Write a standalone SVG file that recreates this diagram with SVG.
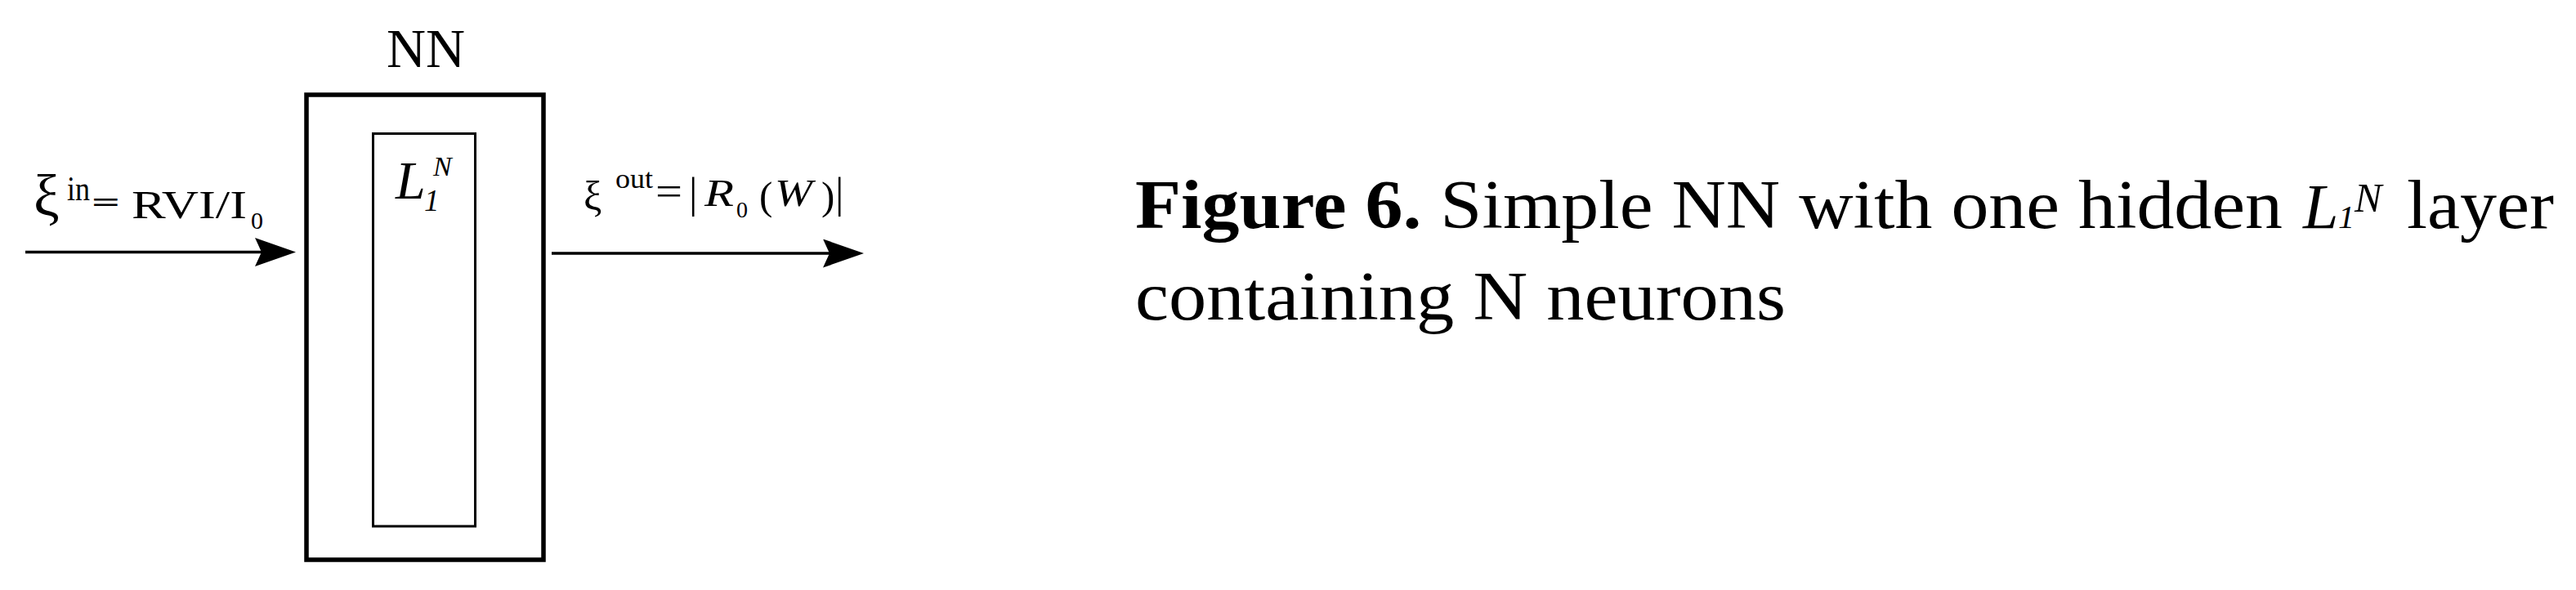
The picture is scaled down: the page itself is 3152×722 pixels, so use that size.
<svg xmlns="http://www.w3.org/2000/svg" width="3152" height="722" viewBox="0 0 3152 722">
<style>
text{font-family:"Liberation Serif","Times New Roman",serif;fill:#000}
.it{font-style:italic}
.b{font-weight:bold}
.box{fill:none;stroke:#000;stroke-linejoin:miter}
.conn{stroke:#000;stroke-width:3.5;fill:none}
</style>
<defs>
<marker id="ah" markerUnits="userSpaceOnUse" markerWidth="52" markerHeight="37" refX="33" refY="17.5" orient="auto">
<path d="M0,0 L50,17.5 L0,35 L8,17.5 Z" fill="#000"/>
</marker>
</defs>
<rect width="3152" height="722" fill="#fff"/>

<g id="nn">
<text x="473" y="82" font-size="68" textLength="96" lengthAdjust="spacingAndGlyphs">NN</text>
<rect class="box" x="375" y="116" width="290" height="569" stroke-width="5.5"/>
</g>

<g id="layer">
<rect class="box" x="456.5" y="163.5" width="125" height="480.5" stroke-width="3"/>
<text class="it" x="484" y="243" font-size="66">L</text>
<text class="it" x="519" y="258" font-size="37">1</text>
<text class="it" x="530" y="215" font-size="34">N</text>
</g>

<g id="input-label">
<text x="41" y="264" font-size="71">ξ</text>
<text x="82" y="245" font-size="42" textLength="28" lengthAdjust="spacingAndGlyphs">in</text>
<text class="b" x="112" y="259" font-size="34" textLength="35" lengthAdjust="spacingAndGlyphs">=</text>
<text x="161" y="267" font-size="48" textLength="141" lengthAdjust="spacingAndGlyphs">RVI/I</text>
<text x="307" y="280" font-size="30">0</text>
</g>

<g id="output-label">
<text x="714" y="257" font-size="50">ξ</text>
<text x="753" y="230" font-size="34" textLength="46" lengthAdjust="spacingAndGlyphs">out</text>
<text x="802" y="250.5" font-size="50" textLength="33" lengthAdjust="spacingAndGlyphs">=</text>
<text x="843" y="254" font-size="52">|</text>
<text class="it" x="862" y="252" font-size="46" textLength="36" lengthAdjust="spacingAndGlyphs">R</text>
<text x="901" y="266" font-size="28">0</text>
<text x="929" y="256" font-size="49">(</text>
<text class="it" x="948" y="252" font-size="46" textLength="46" lengthAdjust="spacingAndGlyphs">W</text>
<text x="1005" y="256" font-size="49">)</text>
<text x="1022" y="254" font-size="52">|</text>
</g>

<g id="connectors">
<line class="conn" x1="31" y1="308.5" x2="345" y2="308.5" marker-end="url(#ah)"/>
<line class="conn" x1="675" y1="310" x2="1040" y2="310" marker-end="url(#ah)"/>
</g>

<g id="caption">
<text x="1389" y="279" font-size="84" textLength="1404" lengthAdjust="spacingAndGlyphs"><tspan class="b">Figure 6.</tspan> Simple NN with one hidden</text>
<text class="it" x="2818" y="279" font-size="78">L</text>
<text class="it" x="2861" y="279" font-size="40">1</text>
<text class="it" x="2881" y="259" font-size="50">N</text>
<text x="2945" y="279" font-size="84" textLength="180" lengthAdjust="spacingAndGlyphs">layer</text>
<text x="1389" y="391" font-size="84" textLength="796" lengthAdjust="spacingAndGlyphs">containing N neurons</text>
</g>
</svg>
